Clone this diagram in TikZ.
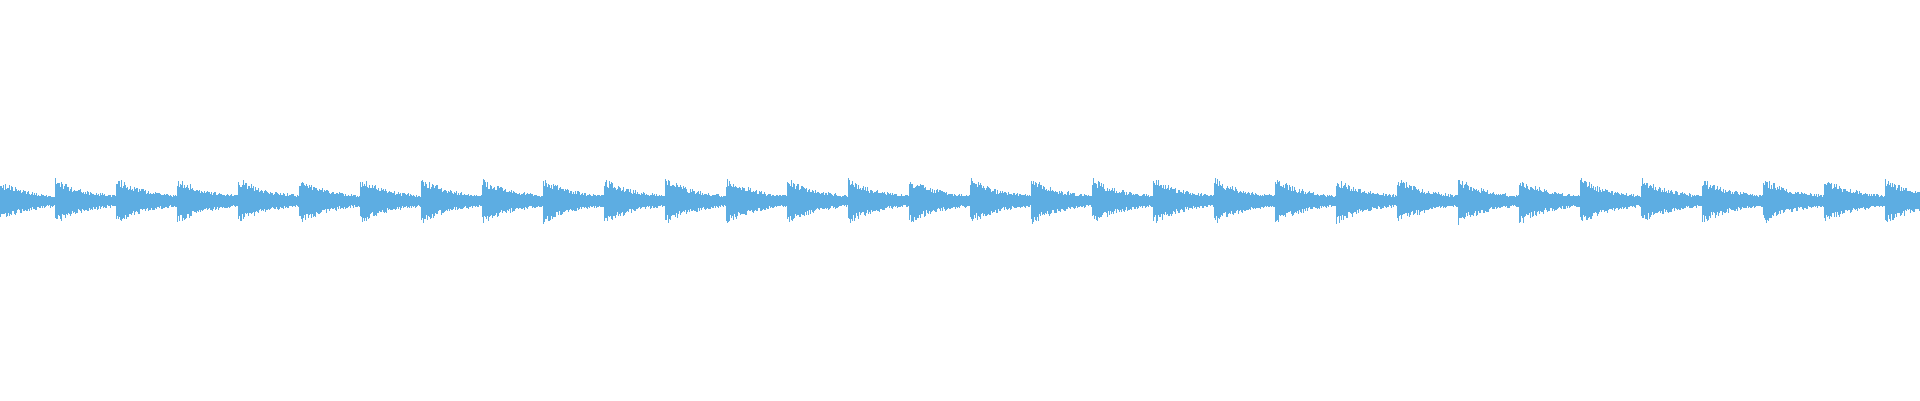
\documentclass[tikz,border=0pt]{standalone}
\definecolor{wave}{HTML}{5DADE2}
\begin{document}
\begin{tikzpicture}[x=1pt,y=1pt,wavebar/.style={fill=wave}]
\useasboundingbox (0,0) rectangle (1920,400);
\pgfmathsetseed{7}
\foreach \k in {-1,...,31}{
  \pgfmathsetmacro{\onset}{55+61*\k}
  \foreach \t in {0,...,60}{
    \pgfmathsetmacro{\xx}{\onset+\t}
    \pgfmathsetmacro{\env}{3+21*exp(-\t/32)}
    \pgfmathsetmacro{\up}{\env*(0.6+0.4*rnd)}
    \pgfmathsetmacro{\dn}{\env*(0.6+0.4*rnd)}
    \ifdim\xx pt>-1pt \ifdim\xx pt<1920pt
      \fill[wavebar] (\xx,199-\dn) rectangle (\xx+1.05,199+\up);
    \fi\fi
  }
}
\end{tikzpicture}
\end{document}
